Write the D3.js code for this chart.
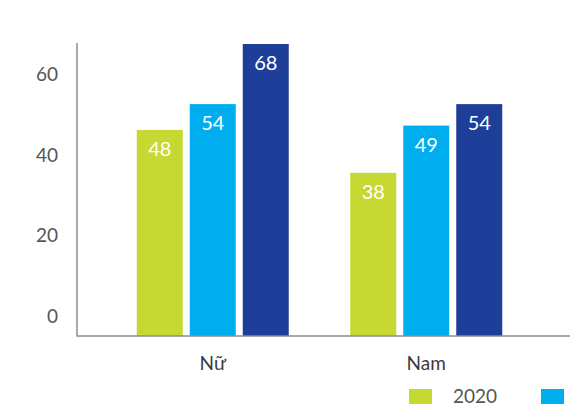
<!DOCTYPE html>
<html>
<head>
<meta charset="utf-8">
<script src="https://cdn.jsdelivr.net/npm/d3@7"></script>
<style>
  html, body { margin: 0; padding: 0; background: #fff; }
  svg { display: block; font-family: Lato, "Open Sans", sans-serif; }
</style>
</head>
<body>
<svg id="chart" width="572" height="407"></svg>
<script>
// Categories and series
const categories = ["Nữ", "Nam"];
const seriesNames = ["2020", "2021", "2022"];
const seriesColors = ["#c5d932", "#00aeef", "#1e3f99"];
const values2020 = [48, 38];
const values2021 = [54, 49];
const values2022 = [68, 54];
const yTickValues = [0, 20, 40, 60];

const seriesValues = [values2020, values2021, values2022];

const W = 572, H = 407;
const svg = d3.select("#chart");

const plotLeft = 77, plotRight = 570, plotBottom = 336, plotTop = 43;

// Group and bar scales
const x0 = d3.scaleBand().domain(categories).range([106, 533]).paddingInner(0).paddingOuter(0);
const groupWidth = 152;
const x1 = d3.scaleBand().domain(seriesNames).range([0, groupWidth]).paddingInner(0.132).paddingOuter(0);

// Bar height scale
const y = d3.scaleLinear().domain([0, 68]).range([plotBottom, 44]);
// Axis label scale
const yTicks = d3.scaleLinear().domain([0, 72.6]).range([plotBottom, plotTop]);

// Y axis labels
const yAxis = d3.axisLeft(yTicks).tickValues(yTickValues).tickSize(0).tickPadding(0).tickFormat(d3.format("d"));
const yg = svg.append("g").attr("transform", `translate(58,0)`).call(yAxis);
yg.select(".domain").remove();
yg.selectAll("text")
  .attr("dy", "-0.7em")
  .attr("fill", "#555")
  .style("font-size", "19px")
  .style("font-weight", 400)
  .style("font-family", "Lato, sans-serif");

// Bars
const groups = svg.append("g").selectAll("g")
  .data(categories)
  .join("g")
  .attr("transform", d => `translate(${x0(d) + (x0.bandwidth() - groupWidth) / 2},0)`);

const barData = (cat, ci) => seriesNames.map((s, si) => ({ series: s, value: seriesValues[si][ci], color: seriesColors[si] }));

groups.selectAll("rect")
  .data((d, i) => barData(d, i))
  .join("rect")
  .attr("x", d => x1(d.series))
  .attr("y", d => y(d.value))
  .attr("width", x1.bandwidth())
  .attr("height", d => plotBottom - y(d.value))
  .attr("fill", d => d.color);

groups.selectAll("text.value")
  .data((d, i) => barData(d, i))
  .join("text")
  .attr("class", "value")
  .attr("x", d => x1(d.series) + x1.bandwidth() / 2)
  .attr("y", d => y(d.value) + 26)
  .attr("text-anchor", "middle")
  .attr("fill", "#fff")
  .style("font-size", "20px")
  .text(d => d.value);

// Axis lines
svg.append("line")
  .attr("x1", plotLeft).attr("x2", plotLeft)
  .attr("y1", plotTop).attr("y2", plotBottom + 0.5)
  .attr("stroke", "#8c8c8c").attr("stroke-width", 1.5);
svg.append("line")
  .attr("x1", plotLeft).attr("x2", plotRight)
  .attr("y1", plotBottom).attr("y2", plotBottom)
  .attr("stroke", "#8c8c8c").attr("stroke-width", 1.5);

// Category labels
svg.append("g").selectAll("text")
  .data(categories)
  .join("text")
  .attr("x", d => x0(d) + x0.bandwidth() / 2)
  .attr("y", 370)
  .attr("text-anchor", "middle")
  .attr("fill", "#3a3a3a")
  .style("font-size", "19px")
  .style("font-weight", 400)
  .text(d => d);

// Legend: swatches run past the right edge; labels only where they fit
const legendX = (i) => 409 + i * 132;
const legend = svg.append("g").selectAll("g")
  .data(seriesNames)
  .join("g")
  .attr("transform", (d, i) => `translate(${legendX(i)},389)`);
legend.append("rect")
  .attr("width", 23).attr("height", 15)
  .attr("fill", (d, i) => seriesColors[i]);
legend.filter((d, i) => legendX(i) + 44 + 45 <= W)
  .append("text")
  .attr("x", 44).attr("y", 14)
  .attr("fill", "#555")
  .style("font-size", "19px")
  .style("font-weight", 400)
  .text(d => d);
</script>
</body>
</html>
